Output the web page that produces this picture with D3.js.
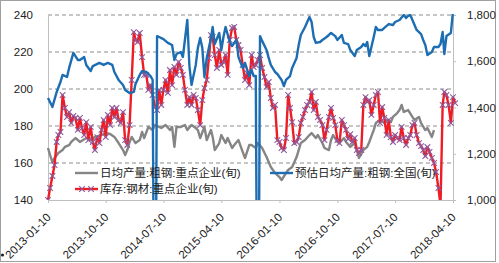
<!DOCTYPE html>
<html>
<head>
<meta charset="utf-8">
<script src="https://cdn.jsdelivr.net/npm/d3@7"></script>
<style>
body { margin: 0; background: #fff; }
svg { display: block; font-family: "Liberation Sans", Arial, "Noto Sans CJK SC", sans-serif; }
</style>
</head>
<body>
<svg width="499" height="263"></svg>
<script>
// tick labels
var leftTicks = [140, 160, 180, 200, 220, 240];
var rightTicks = [1000, 1200, 1400, 1600, 1800];
var dateTicks = ["2013-01-10", "2013-10-10", "2014-07-10", "2015-04-10",
                 "2016-01-10", "2016-10-10", "2017-07-10", "2018-04-10"];
var legendNames = ["日均产量:粗钢:重点企业(旬)", "库存:钢材:重点企业(旬)", "预估日均产量:粗钢:全国(旬)"];

// series: [index of the 旬 since 2013-01-10, value]
// 日均产量:粗钢:重点企业 (left axis)
var grayData = [[0,168.1],[1,164.3],[2,160.5],[3,162.7],[5,165.4],[7,167],[8,168.7],[10,169.7],[11,171.4],[13,173.5],
  [15,171.4],[18,173.5],[20,172.4],[22,174.1],[25,175.1],[27,176.2],[29,175.7],[31,174.1],[33,170.8],[35,167],
  [36,164.3],[37,167],[38,171.4],[39,174.1],[41,170.8],[43,172.4],[44,176.8],[45,173.5],[47,179.5],[49,177.8],
  [50,180.5],[52,179.5],[53,178.9],[55,180.5],[57,177.8],[58,179.5],[59,168.7],[60,179.5],[62,179.5],[64,180.5],
  [65,177.8],[67,180.5],[69,178.9],[70,177.8],[71,173.5],[73,179.5],[74,172.4],[76,177.8],[77,174.1],[78,167],
  [80,170.8],[81,175.1],[83,170.8],[84,173.5],[86,168.1],[87,169.7],[89,172.4],[91,166],[92,162.7],[94,169.7],
  [95,169.7],[97,168.1],[98,170.8],[100,168.1],[102,163.2],[103,160.5],[104,157.8],[106,154.6],[108,152.4],[109,150.8],
  [111,154.6],[112,156.2],[114,157.8],[116,163.2],[117,167],[118,170.8],[120,172.4],[122,175.1],[123,176.2],[125,173.5],
  [126,175.1],[128,170.8],[129,168.1],[131,167],[132,172.4],[133,175.1],[135,171.4],[136,170.8],[138,173.5],[139,171.4],
  [141,168.7],[143,170.8],[144,167],[145,162.7],[147,167],[149,168.7],[150,171.4],[152,177.8],[153,181.6],[155,183.2],
  [157,181.6],[158,183.2],[160,182.2],[161,184.9],[163,187],[164,188.6],[165,191.4],[166,187.6],[168,188.6],[170,184.9],
  [171,183.2],[173,184.9],[174,181.6],[176,177.8],[177,178.9],[179,174.1],[180,177.8]];

// 库存:钢材:重点企业 (right axis), one value per 旬
var redValues = [1000,1052,1104,1151,1251,1281,1294,1454,1398,1359,
  1380,1333,1363,1355,1303,1355,1311,1281,1337,1259,
  1316,1251,1216,1272,1246,1303,1346,1272,1368,1324,
  1398,1359,1398,1346,1333,1380,1259,1238,1324,1519,
  1726,1692,1683,1722,1618,1541,1541,1476,1497,1454,
  1402,1389,1476,1411,1476,1519,1463,1562,1497,1575,
  1541,1597,1571,1541,1476,1411,1445,1411,1454,1441,
  1389,1324,1432,1484,1519,1614,1713,1705,1627,1571,
  1649,1584,1597,1627,1541,1692,1744,1748,1692,1670,
  1649,1584,1519,1549,1497,1627,1575,1584,1605,1627,
  1571,1532,1489,1510,1441,1398,1411,1259,1251,1225,
  1216,1268,1454,1398,1337,1246,1251,1272,1333,1359,
  1389,1411,1424,1467,1389,1424,1359,1346,1324,1259,
  1303,1359,1398,1355,1324,1259,1246,1346,1324,1303,
  1264,1285,1251,1268,1216,1203,1216,1411,1445,1424,
  1432,1368,1411,1454,1467,1333,1402,1355,1281,1346,
  1272,1251,1281,1268,1259,1316,1268,1238,1268,1281,
  1324,1333,1281,1246,1233,1216,1190,1229,1208,1182,
  1160,1121,1052,978,1411,1467,1454,1411,1333,1445,
  1419];

// 预估日均产量:粗钢:全国 (left axis)
var blueData = [[0,195.1],[2,190.3],[4,198.4],[6,203.8],[7,207.6],[9,206.5],[10,211.4],[12,219.5],[14,215.7],[15,215.7],
  [17,217.3],[18,213],[20,209.7],[21,212.4],[24,214.1],[26,213],[28,214.1],[30,213],[31,209.2],[33,204.9],
  [35,202.2],[36,199.5],[38,197.8],[40,198.4],[41,202.7],[43,207.6],[44,209.7],[46,209.2],[48,207],[49,205],
  [50,0],[51,228.6],[52,228.1],[54,227],[56,224.9],[58,223.8],[59,215.7],[60,218.9],[62,220],[63,217.3],
  [65,237.3],[66,212.4],[67,202.2],[69,213],[70,222.2],[71,227.6],[72,222.2],[73,206.5],[74,216.8],[76,227.6],
  [77,233.5],[78,224.3],[80,230.3],[81,221.1],[82,228.1],[83,233.5],[85,225.4],[86,223.2],[88,226.5],[89,217.3],
  [91,211.4],[92,214.1],[94,207],[95,210.3],[96,207],[97,207],[98,0],[99,228.6],[100,226],[102,221.1],
  [103,216.8],[104,213],[106,209.2],[107,208.1],[109,204.9],[110,201.6],[111,204.9],[113,207],[114,211.4],[116,216.8],
  [117,223.8],[118,229.2],[120,233.5],[122,238.9],[123,236.2],[124,228.1],[125,224.9],[127,225.4],[128,226.5],[130,228.1],
  [131,229.2],[132,230.3],[134,228.6],[135,226.5],[137,229.2],[138,224.9],[140,224.3],[141,221.1],[143,217.8],[144,221.1],
  [146,222.7],[147,224.3],[148,223.2],[149,225.4],[150,217.8],[152,228.1],[153,233.5],[154,231.9],[156,231.9],[157,233],
  [159,235.1],[161,234.6],[162,236.2],[164,237.3],[166,240],[167,238.4],[168,239.5],[169,240],[170,237.3],[172,231.9],
  [174,229.7],[175,226.5],[176,223.8],[177,218.4],[179,220],[180,222.7],[182,222.7],[183,224.3],[184,230.8],[185,218.9],
  [186,228.6],[188,230.3],[189,242]];

var colors = { gray: "#858585", red: "#ee1c25", marker: "#8e5c9f", blue: "#1d6db3", grid: "#8c8c8c", axis: "#bfbfbf" };

var svg = d3.select("svg");
var plot = { left: 48, right: 453, top: 15, bottom: 200 };

var parseDate = d3.timeParse("%Y-%m-%d");

// the 旬 k -> date (10th, 20th, last day of the month)
function periodDate(k) {
    var m = Math.floor(k / 3), p = k % 3;
    var day = p == 0 ? 10 : (p == 1 ? 20 : new Date(2013, m + 1, 0).getDate());
    return new Date(2013, m, day);
}

var x = d3.scaleTime()
    .domain([parseDate(dateTicks[0]), parseDate(dateTicks[dateTicks.length - 1])])
    .range([plot.left, plot.right]);
var yLeft = d3.scaleLinear().domain([140, 240]).range([plot.bottom, plot.top]);
var yRight = d3.scaleLinear().domain([1000, 1800]).range([plot.bottom, plot.top]);

// border of the picture
svg.append("rect")
    .attr("x", 0.5).attr("y", 0.5).attr("width", 495).attr("height", 261)
    .attr("fill", "none").attr("stroke", "#a0a0a0");
svg.append("circle").attr("cx", 2.5).attr("cy", 255).attr("r", 1.6).attr("fill", "#222");

// dashed grid
svg.append("g").selectAll("line")
    .data(leftTicks.slice(1))
    .enter().append("line")
    .attr("x1", plot.left).attr("x2", plot.right)
    .attr("y1", function (d) { return yLeft(d); })
    .attr("y2", function (d) { return yLeft(d); })
    .attr("stroke", colors.grid).attr("stroke-width", 1)
    .attr("stroke-dasharray", "4,3");

// left axis
var gLeft = svg.append("g")
    .attr("transform", "translate(" + plot.left + ",0)")
    .call(d3.axisLeft(yLeft).tickValues(leftTicks).tickSize(0).tickPadding(15));

// right axis
var gRight = svg.append("g")
    .attr("transform", "translate(" + plot.right + ",0)")
    .call(d3.axisRight(yRight).tickValues(rightTicks).tickSize(3).tickSizeOuter(0)
        .tickPadding(11).tickFormat(d3.format(",")));

// bottom axis
var gBottom = svg.append("g")
    .attr("transform", "translate(0," + plot.bottom + ")")
    .call(d3.axisBottom(x).tickValues(dateTicks.map(parseDate)).tickSize(3).tickSizeOuter(0)
        .tickFormat(d3.timeFormat("%Y-%m-%d")));

gBottom.selectAll("text")
    .attr("x", 0).attr("y", 0).attr("dy", 0)
    .attr("text-anchor", "end")
    .attr("transform", "translate(3,18) rotate(-45)");

[gLeft, gRight, gBottom].forEach(function (g) {
    g.selectAll(".domain").attr("stroke", colors.axis);
    g.selectAll(".tick line").attr("stroke", colors.axis);
    g.selectAll("text").attr("fill", "#222").style("font-size", "11.5px");
});

// clip the lines to the plot
svg.append("clipPath").attr("id", "clip")
    .append("rect")
    .attr("x", plot.left - 6).attr("y", plot.top - 1)
    .attr("width", plot.right - plot.left + 12).attr("height", plot.bottom - plot.top + 1);

var lines = svg.append("g").attr("clip-path", "url(#clip)");

var lineLeft = d3.line()
    .x(function (d) { return x(periodDate(d[0])); })
    .y(function (d) { return yLeft(d[1]); });
var lineRight = d3.line()
    .x(function (d) { return x(periodDate(d[0])); })
    .y(function (d) { return yRight(d[1]); });

var redData = redValues.map(function (v, i) { return [i, v]; });

lines.append("path").datum(grayData)
    .attr("d", lineLeft).attr("fill", "none")
    .attr("stroke", colors.gray).attr("stroke-width", 2.4).attr("stroke-linejoin", "round");

lines.append("path").datum(redData)
    .attr("d", lineRight).attr("fill", "none")
    .attr("stroke", colors.red).attr("stroke-width", 2.4).attr("stroke-linejoin", "round");

var cross = "M-2.8,-2.8L2.8,2.8M-2.8,2.8L2.8,-2.8";

lines.append("g").selectAll("path")
    .data(redData)
    .enter().append("path")
    .attr("d", cross)
    .attr("transform", function (d) { return "translate(" + x(periodDate(d[0])) + "," + yRight(d[1]) + ")"; })
    .attr("stroke", colors.marker).attr("stroke-width", 1.1).attr("fill", "none");

lines.append("path").datum(blueData)
    .attr("d", lineLeft).attr("fill", "none")
    .attr("stroke", colors.blue).attr("stroke-width", 2.4).attr("stroke-linejoin", "round");

//////////// LEGEND ////////////
var legendItems = [
    { name: legendNames[0], color: colors.gray, x: 75, y: 173, marker: false },
    { name: legendNames[1], color: colors.red, x: 75, y: 189, marker: true },
    { name: legendNames[2], color: colors.blue, x: 270, y: 173, marker: false }
];

var legend = svg.append("g").selectAll("g")
    .data(legendItems)
    .enter().append("g")
    .attr("transform", function (d) { return "translate(" + d.x + "," + d.y + ")"; });

legend.append("line")
    .attr("x1", 0).attr("x2", 23)
    .attr("stroke", function (d) { return d.color; })
    .attr("stroke-width", 2.4);

legend.filter(function (d) { return d.marker; })
    .selectAll("path")
    .data([7, 16])
    .enter().append("path")
    .attr("d", cross)
    .attr("transform", function (d) { return "translate(" + d + ",0)"; })
    .attr("stroke", colors.marker).attr("stroke-width", 1.1);

legend.append("text")
    .attr("x", 25).attr("y", 0).attr("dy", "0.36em")
    .attr("fill", "#222")
    .style("font-size", "11.5px")
    .text(function (d) { return d.name; });
</script>
</body>
</html>
